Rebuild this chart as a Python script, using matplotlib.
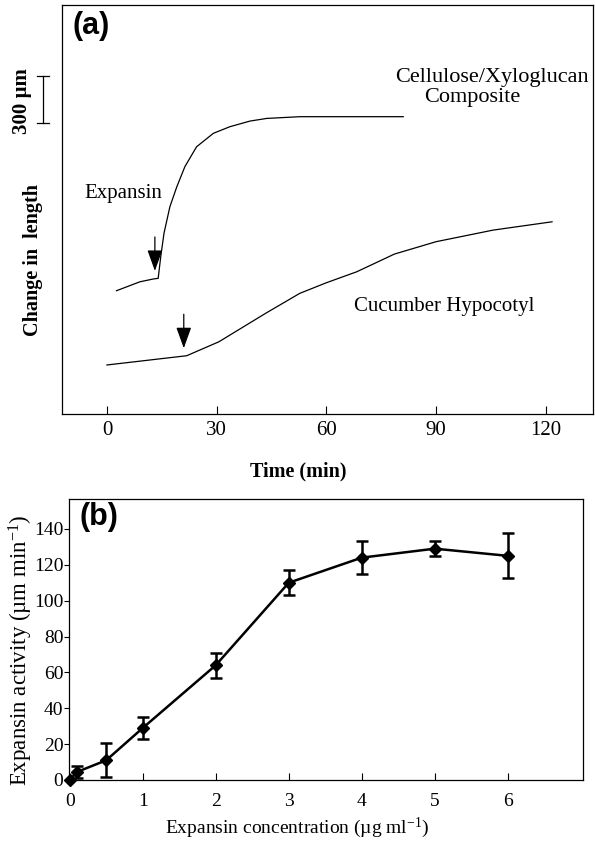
import matplotlib
matplotlib.use('Agg')
import matplotlib.pyplot as plt
import matplotlib.transforms as mtransforms
import numpy as np

plt.rcParams['font.family'] = ['Liberation Serif', 'DejaVu Serif']
plt.rcParams['mathtext.fontset'] = 'custom'
plt.rcParams['mathtext.rm'] = 'Liberation Serif'
plt.rcParams['mathtext.it'] = 'Liberation Serif:italic'

# (a) extension traces: time (min) vs change in length (um, arbitrary zero)
comp_t = [2.6, 9.0, 12.7, 14.0, 14.7, 15.6, 17.2, 19.1, 21.3, 24.5, 29.1,
          33.6, 39.1, 43.7, 52.8, 81.0]
comp_len = [787, 844, 862, 866, 1004, 1155, 1323, 1451, 1579, 1706, 1792,
            1834, 1870, 1887, 1898, 1898]
hypo_t = [0.0, 21.8, 30.6, 43.4, 52.7, 60.0, 68.3, 78.6, 90.0, 105.6, 121.7]
hypo_len = [313, 372, 461, 643, 770, 838, 908, 1021, 1100, 1174, 1227]
add_t = [13.1, 21.0]           # expansin added (arrows)
time_ticks = [0, 30, 60, 90, 120]
scale_um = 300

# (b) dose response
conc = [0, 0.1, 0.5, 1, 2, 3, 4, 5, 6]
activity = [0, 4.5, 11, 29, 64, 110, 124, 129, 125]
activity_err = [0, 3.5, 9.5, 6, 7, 7, 9, 4, 12.5]
conc_ticks = [0, 1, 2, 3, 4, 5, 6]
act_ticks = [0, 20, 40, 60, 80, 100, 120, 140]

W, H = 595, 842
fig = plt.figure(figsize=(W / 100, H / 100), dpi=100)


def box(l, t, r, b):
    return [l / W, 1 - b / H, (r - l) / W, (b - t) / H]


# ---------------- panel (a)
ax = fig.add_axes(box(62, 5, 593, 414))
ax.plot(comp_t, comp_len, color='k', lw=0.9)
ax.plot(hypo_t, hypo_len, color='k', lw=0.9)
ax.set_xlim(-12.3, 132.9)
ax.set_ylim(0, 2611)
ax.set_xticks(time_ticks)
ax.set_yticks([])
ax.tick_params(axis='x', direction='in', length=6, width=0.8, pad=5,
               labelsize=15)
for s in ax.spines.values():
    s.set_linewidth(0.9)

for t, (tt, ll) in zip(add_t, [(comp_t, comp_len), (hypo_t, hypo_len)]):
    tip = np.interp(t, tt, ll) + 50
    ax.annotate('', xy=(t, tip), xytext=(t, tip + 217),
                arrowprops=dict(arrowstyle='-|>,head_length=1.0,head_width=0.36',
                                mutation_scale=13, color='k', lw=0.9,
                                shrinkA=0, shrinkB=0))

# scale bar left of the axis
trans = mtransforms.blended_transform_factory(ax.transAxes, ax.transData)
y0 = 1857
ax.plot([-0.036, -0.036], [y0, y0 + scale_um], color='k', lw=0.9,
        transform=trans, clip_on=False)
for yy in (y0, y0 + scale_um):
    ax.plot([-0.048, -0.024], [yy, yy], color='k', lw=0.9,
            transform=trans, clip_on=False)

ax.text(0.019, 0.985, '(a)', transform=ax.transAxes, ha='left', va='top',
        family='Liberation Sans', weight='bold', size=22)
ax.text(0.810, 0.822, 'Cellulose/Xyloglucan', transform=ax.transAxes,
        ha='center', va='center', size=16)
ax.text(0.772, 0.775, 'Composite', transform=ax.transAxes,
        ha='center', va='center', size=16)
ax.text(0.116, 0.540, 'Expansin', transform=ax.transAxes,
        ha='center', va='center', size=15)
ax.text(0.719, 0.264, 'Cucumber Hypocotyl', transform=ax.transAxes,
        ha='center', va='center', size=15)

fig.text(22 / W, 1 - 101 / H, '300 µm', rotation=90, ha='center',
         va='center', weight='bold', size=15)
fig.text(33 / W, 1 - 260 / H, 'Change in  length', rotation=90, ha='center',
         va='center', weight='bold', size=14.5)
fig.text(298 / W, 1 - 471 / H, 'Time (min)', ha='center', va='center',
         weight='bold', size=14.5)

# ---------------- panel (b)
bx = fig.add_axes(box(69, 499, 583, 780))
bx.plot(conc, activity, '-D', color='k', lw=1.8, ms=6.5, clip_on=False,
        zorder=3)
bx.errorbar(conc[1:], activity[1:], yerr=activity_err[1:], fmt='none',
            ecolor='k', elinewidth=1.8, capsize=4.5, capthick=1.8,
            clip_on=False)
bx.set_xlim(-0.01, 7.03)
bx.set_ylim(0, 156.7)
bx.set_xticks(conc_ticks)
bx.set_yticks(act_ticks)
bx.tick_params(axis='x', direction='in', length=5, width=0.8, pad=9,
               labelsize=14)
bx.tick_params(axis='y', direction='out', length=3.5, width=0.8, pad=0.5,
               labelsize=14)
for s in bx.spines.values():
    s.set_linewidth(0.9)

bx.text(0.021, 0.99, '(b)', transform=bx.transAxes, ha='left', va='top',
        family='Liberation Sans', weight='bold', size=22)

fig.text(21 / W, 1 - 650 / H, 'Expansin activity (µm min$^{-1}$)',
         rotation=90, ha='center', va='center', size=16.5)
fig.text(297 / W, 1 - 828 / H, 'Expansin concentration (µg ml$^{-1}$)',
         ha='center', va='center', size=14)

fig.savefig('out.png', dpi=100)
